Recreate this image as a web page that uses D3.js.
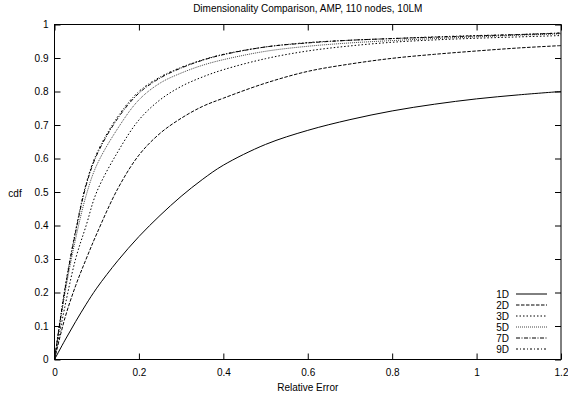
<!DOCTYPE html>
<html>
<head>
<meta charset="utf-8">
<script src="https://d3js.org/d3.v7.min.js"></script>
<style>
  body { margin: 0; background: #fff; }
  text { font-family: "Liberation Sans", Arial, sans-serif; font-size: 10px; fill: #000; }
</style>
</head>
<body>
<div class="chart"></div>
<script>
// relative error sample points (x)
const errs = [0, 0.025, 0.05, 0.075, 0.1, 0.15, 0.2, 0.25, 0.3, 0.35, 0.4, 0.5, 0.6, 0.7, 0.8, 0.9, 1.0, 1.1, 1.2];

// cdf values
const d1 = [0, 0.058, 0.113, 0.165, 0.213, 0.295, 0.367, 0.43, 0.487, 0.537, 0.58, 0.642, 0.684, 0.716, 0.742, 0.762, 0.778, 0.79, 0.80];
const d2 = [0, 0.125, 0.22, 0.30, 0.375, 0.51, 0.61, 0.675, 0.72, 0.755, 0.78, 0.825, 0.86, 0.882, 0.899, 0.911, 0.921, 0.93, 0.937];
const d3v = [0, 0.16, 0.30, 0.40, 0.50, 0.62, 0.715, 0.775, 0.815, 0.843, 0.865, 0.898, 0.921, 0.936, 0.947, 0.954, 0.959, 0.963, 0.967];
const d5 = [0, 0.20, 0.36, 0.49, 0.58, 0.69, 0.775, 0.825, 0.855, 0.878, 0.895, 0.92, 0.935, 0.945, 0.952, 0.958, 0.963, 0.968, 0.972];
const d7 = [0, 0.21, 0.38, 0.52, 0.61, 0.72, 0.795, 0.84, 0.87, 0.893, 0.91, 0.933, 0.945, 0.953, 0.958, 0.962, 0.966, 0.970, 0.974];
const d9 = [0, 0.215, 0.385, 0.525, 0.615, 0.725, 0.80, 0.843, 0.872, 0.894, 0.911, 0.933, 0.946, 0.953, 0.958, 0.963, 0.967, 0.970, 0.975];

const names = ["1D", "2D", "3D", "5D", "7D", "9D"];
const dashes = ["none", "3.5,1.5", "1.5,2", "1,1", "4,1.5,1,1.5", "2,2,1,2"];
const strokes = ["#000", "#000", "#000", "#444", "#000", "#000"];

const xTicks = [0, 0.2, 0.4, 0.6, 0.8, 1, 1.2];
const yTicks = [0, 0.1, 0.2, 0.3, 0.4, 0.5, 0.6, 0.7, 0.8, 0.9, 1];

const margin = ({top: 24.5, right: 7, bottom: 41.5, left: 54.5});
const W = 568, H = 401;
const width = W - margin.left - margin.right,
    height = H - margin.top - margin.bottom;

const svg0 = d3.select(".chart").append("svg")
    .attr("width", W)
    .attr("height", H);

const svg = svg0.append("g")
    .attr("transform", "translate(" + margin.left + "," + margin.top + ")");

const xScale = d3.scaleLinear().domain([0, 1.2]).range([0, width]);
const yScale = d3.scaleLinear().domain([0, 1]).range([height, 0]);

// axes with inward ticks, mirrored on top and right
const xAxis = d3.axisBottom(xScale).tickValues(xTicks).tickSizeInner(-6).tickSizeOuter(0).tickPadding(9).tickFormat(d3.format("~g"));
const yAxis = d3.axisLeft(yScale).tickValues(yTicks).tickSizeInner(-6).tickSizeOuter(0).tickPadding(6).tickFormat(d3.format("~g"));

svg.append("g")
    .attr("class", "x-axis")
    .attr("transform", "translate(0," + height + ")")
    .call(xAxis);
svg.append("g")
    .attr("class", "y-axis")
    .call(yAxis);
svg.append("g")
    .attr("transform", "translate(0,0)")
    .call(d3.axisTop(xScale).tickValues(xTicks).tickSizeInner(-6).tickSizeOuter(0).tickFormat(""));
svg.append("g")
    .attr("transform", "translate(" + width + ",0)")
    .call(d3.axisRight(yScale).tickValues(yTicks).tickSizeInner(-6).tickSizeOuter(0).tickFormat(""));

svg.selectAll(".domain").remove();
svg.selectAll(".tick line").attr("stroke", "#000");
svg.selectAll(".tick text").style("font-size", "10px").style("font-family", "Liberation Sans, Arial, sans-serif");

svg.append("rect")
    .attr("width", width)
    .attr("height", height)
    .attr("fill", "none")
    .attr("stroke", "#000")
    .attr("stroke-width", 1);

// curves
const series = [d1, d2, d3v, d5, d7, d9];
const line = d3.line()
    .x((d, i) => xScale(errs[i]))
    .y(d => yScale(d))
    .curve(d3.curveCatmullRom.alpha(0.5));

series.forEach(function(s, k) {
    svg.append("path")
        .datum(s)
        .attr("d", line)
        .attr("fill", "none")
        .attr("stroke", strokes[k])
        .attr("stroke-width", 1)
        .attr("stroke-dasharray", dashes[k]);
});

// legend
const leg = svg0.append("g").attr("class", "legend");
names.forEach(function(n, k) {
    const y = 297.5 + k * 11;
    leg.append("text")
        .attr("x", 509)
        .attr("y", y)
        .attr("text-anchor", "end")
        .text(n);
    leg.append("line")
        .attr("x1", 516).attr("x2", 547)
        .attr("y1", y - 3.5).attr("y2", y - 3.5)
        .attr("stroke", strokes[k])
        .attr("stroke-width", 1)
        .attr("stroke-dasharray", dashes[k]);
});

// labels
svg0.append("text")
    .attr("x", margin.left + width / 2)
    .attr("y", 12)
    .attr("text-anchor", "middle")
    .text("Dimensionality Comparison, AMP, 110 nodes, 10LM");

svg0.append("text")
    .attr("x", margin.left + width / 2)
    .attr("y", 391)
    .attr("text-anchor", "middle")
    .text("Relative Error");

svg0.append("text")
    .attr("x", 15)
    .attr("y", 197)
    .attr("text-anchor", "middle")
    .text("cdf");
</script>
</body>
</html>
